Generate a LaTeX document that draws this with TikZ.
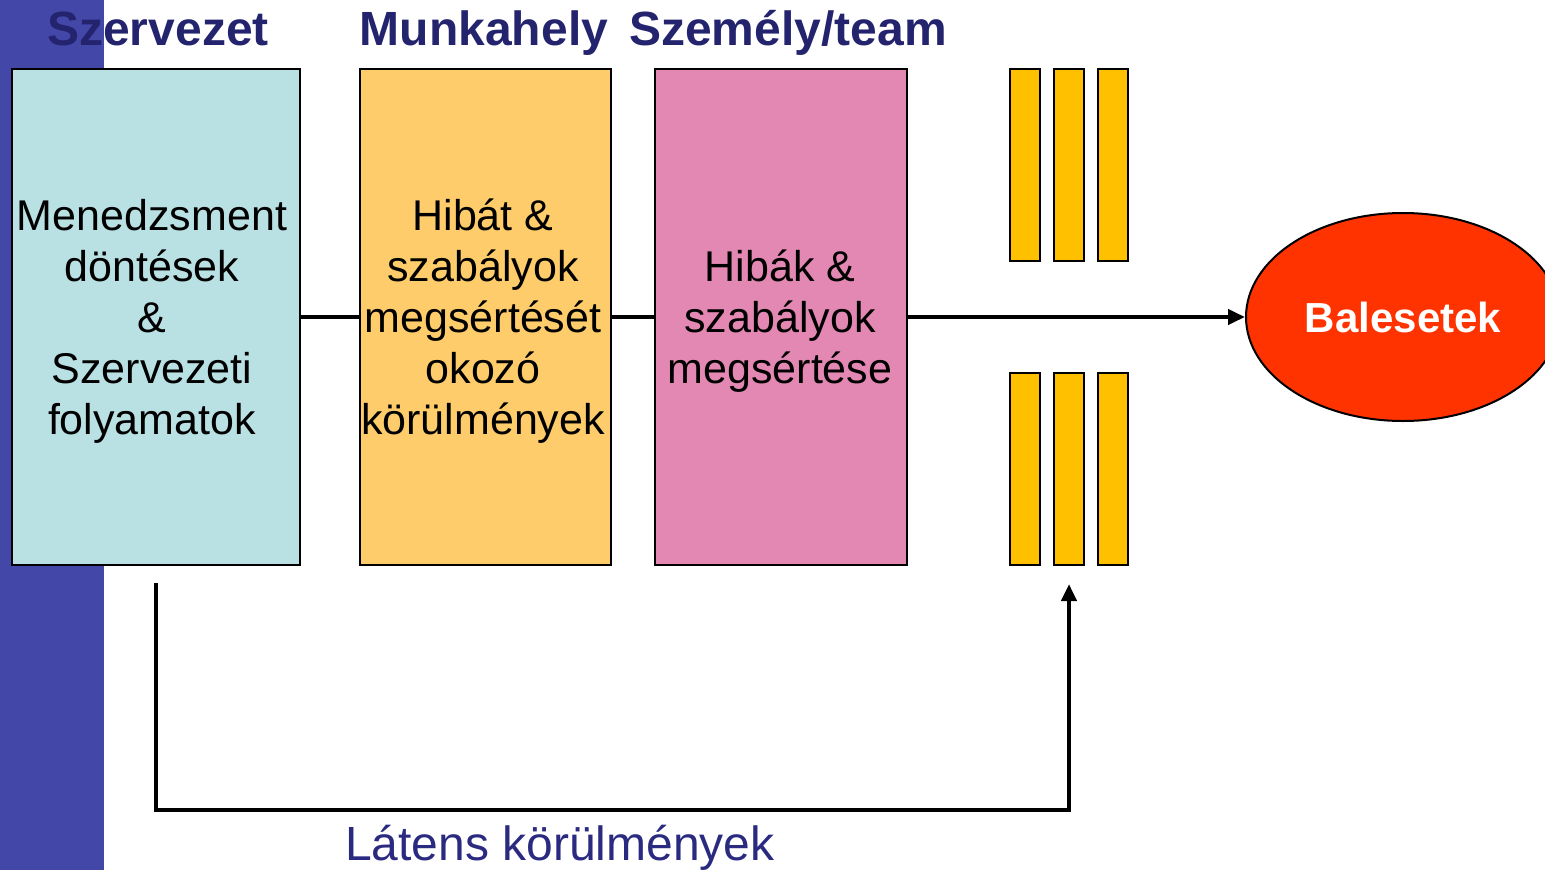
\documentclass[tikz,border=0pt]{standalone}
\usepackage{fontspec}
\setmainfont{Liberation Sans}
\usetikzlibrary{arrows.meta,shapes.geometric}
\definecolor{band}{HTML}{4347A8}
\definecolor{navy}{HTML}{23236E}
\definecolor{cyanbox}{HTML}{B9E0E3}
\definecolor{orangebox}{HTML}{FECC6A}
\definecolor{pinkbox}{HTML}{E288B3}
\definecolor{barcol}{HTML}{FFC000}
\definecolor{redell}{HTML}{FF3300}
\definecolor{latcol}{HTML}{2A2A80}
\begin{document}
\begin{tikzpicture}[x=1pt,y=-1pt,
  bigbox/.style={draw=black,line width=2pt,inner sep=0pt,minimum height=496pt},
  boxtext/.style={inner sep=0pt,align=center,font=\fontsize{43}{51}\selectfont},
  bar/.style={draw=black,line width=2.5pt,fill=barcol,minimum width=30pt,minimum height=192pt,inner sep=0pt},
  heading/.style={text=navy,font=\fontsize{48}{56}\selectfont\bfseries,inner sep=0pt,anchor=base},
  conn/.style={line width=4pt},
  tip/.style={-{Triangle[length=17pt,width=15pt]}}]
\useasboundingbox (0,0) rectangle (1545,870);
\fill[band] (0,0) rectangle (104,870);
\node[bigbox,fill=cyanbox,minimum width=288pt] (b1) at (156,317) {};
\node[bigbox,fill=orangebox,minimum width=251pt] (b2) at (485.5,317) {};
\node[bigbox,fill=pinkbox,minimum width=252pt] (b3) at (781,317) {};
\node[boxtext] (x1) at (152,321.5) {Menedzsment\\döntések\\\&\\Szervezeti\\folyamatok};
\node[boxtext] (x2) at (483,321.5) {Hibát \&\\szabályok\\megsértését\\okozó\\körülmények};
\node[boxtext] (x3) at (780,321.5) {Hibák \&\\szabályok\\megsértése};
\node[heading] (h1) at (158,45) {Szervezet};
\node[heading] (h2) at (484,45) {Munkahely};
\node[heading] (h3) at (788,45) {Személy/team};
\node[bar] (t1) at (1025,165) {};
\node[bar] (t2) at (1069,165) {};
\node[bar] (t3) at (1113,165) {};
\node[bar] (u1) at (1025,469) {};
\node[bar] (u2) at (1069,469) {};
\node[bar] (u3) at (1113,469) {};
\node[ellipse,draw=black,line width=2pt,fill=redell,minimum width=314pt,minimum height=208pt,inner sep=0pt,
  text=white,font=\fontsize{42}{50}\selectfont\bfseries] (ell) at (1403,317) {Balesetek};
\draw[conn] (b1.east) -- (b2.west);
\draw[conn] (b2.east) -- (b3.west);
\draw[conn,tip] (b3.east) -- (ell.west);
\coordinate (ls) at (156,583);
\coordinate (le) at (1069,584);
\draw[conn,tip,line width=4.5pt] (ls) -- (ls |- 0,810) -- (le |- 0,810) -- (le);
\node[text=latcol,font=\fontsize{48}{56}\selectfont,inner sep=0pt,anchor=base] (lat) at (560,860) {Látens körülmények};
\end{tikzpicture}
\end{document}
